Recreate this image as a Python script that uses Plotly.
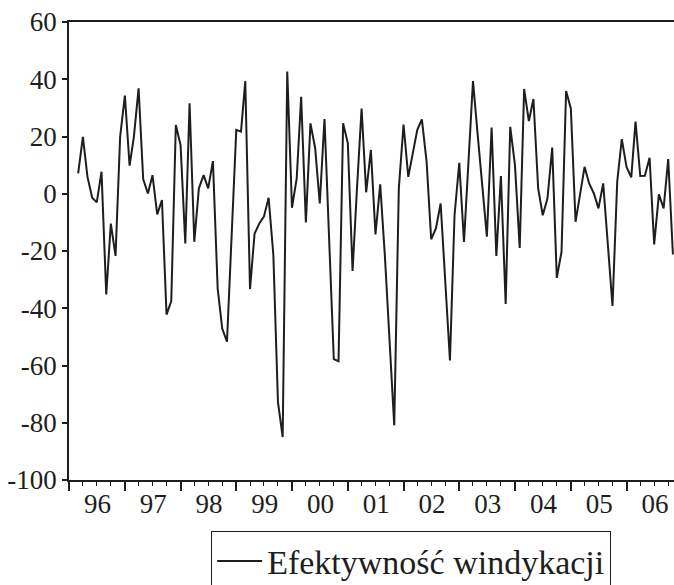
import plotly.graph_objects as go
import pandas as pd

start_month = "1996-03-01"
values = [
    7.1, 19.9, 5.9, -1.4, -3.0, 7.7, -35.2, -10.4, -21.7, 19.9,
    34.3, 9.8, 19.9, 36.8, 5.1, 0.1, 6.5, -7.2, -2.2, -42.2,
    -37.5, 24.0, 17.0, -17.4, 31.6, -16.8, 1.9, 6.5, 1.9, 11.4,
    -33.1, -47.1, -51.7, -14.0, 22.3, 21.7, 39.4, -33.3, -13.9, -10.4,
    -8.0, -1.4, -21.4, -72.7, -85.0, 42.7, -4.9, 5.4, 33.9, -10.0,
    24.6, 15.9, -3.4, 26.1, -16.0, -57.8, -58.5, 24.6, 17.6, -27.0,
    1.0, 29.8, 0.5, 15.3, -14.2, 3.3, -22.0, -51.0, -80.9, 1.9,
    24.2, 5.9, 14.1, 22.3, 26.0, 11.2, -15.9, -12.1, -3.4, -31.0,
    -58.2, -7.5, 10.8, -16.8, 11.0, 39.4, 21.0, 3.0, -15.0, 23.1,
    -21.7, 6.2, -38.5, 23.4, 10.0, -18.9, 36.6, 25.4, 33.1, 1.9,
    -7.5, -1.6, 16.1, -29.4, -20.3, 35.9, 29.8, -9.8, 0.0, 9.4,
    3.6, 0.1, -5.1, 3.6, -18.0, -39.2, 4.2, 19.1, 9.4, 5.7,
    25.2, 6.2, 6.3, 12.6, -17.7, -0.2, -5.1, 12.1, -21.2,
]
series_name = "Efektywność windykacji"
y_ticks = [-100, -80, -60, -40, -20, 0, 20, 40, 60]
y_tick_text = ["-100", "-80", "-60", "-40", "-20", "0", "20", "40", "60"]
year_labels = ["96", "97", "98", "99", "00", "01", "02", "03", "04", "05", "06"]

dates = pd.date_range(start_month, periods=len(values), freq="MS")
year_starts = pd.date_range("1996-01-01", periods=len(year_labels) + 1, freq="YS")
year_mids = [d + pd.DateOffset(months=6, days=5) for d in year_starts[:len(year_labels)]]
quarters = pd.date_range("1996-01-01", "2006-12-31", freq="QS")

FONT = "Liberation Serif"
INK = "#1e1e1e"
X_RANGE = ["1996-01-01", "2006-11-08"]
tick_font = dict(family=FONT, size=27, color=INK)

fig = go.Figure()
fig.add_trace(go.Scatter(
    x=dates, y=values, mode="lines", name=series_name,
    line=dict(color=INK, width=2),
))
# helper traces so the overlay axes (year labels, quarter ticks) are drawn
fig.add_trace(go.Scatter(x=[dates[0]], y=[None], xaxis="x2", showlegend=False, hoverinfo="skip"))
fig.add_trace(go.Scatter(x=[dates[0]], y=[None], xaxis="x3", showlegend=False, hoverinfo="skip"))

fig.update_layout(
    width=674, height=585,
    margin=dict(l=69, r=0, t=22, b=105, autoexpand=False),
    paper_bgcolor="white", plot_bgcolor="white",
    font=tick_font,
    showlegend=True,
    legend=dict(
        x=0.235, y=-0.112, xanchor="left", yanchor="top",
        bordercolor=INK, borderwidth=1,
        font=dict(family=FONT, size=34, color=INK),
        itemwidth=45,
    ),
    xaxis=dict(
        type="date", range=X_RANGE,
        tickvals=list(year_starts), ticktext=[""] * len(year_starts),
        ticks="outside", ticklen=9, tickwidth=1.5, tickcolor=INK,
        showline=True, linecolor=INK, linewidth=1.5, mirror=True,
        showgrid=False, zeroline=False, automargin=False,
    ),
    xaxis3=dict(
        type="date", overlaying="x", side="bottom", matches="x", range=X_RANGE,
        tickvals=list(quarters), ticktext=[""] * len(quarters),
        ticks="outside", ticklen=5, tickwidth=1.2, tickcolor=INK,
        showline=False, showgrid=False, zeroline=False, automargin=False,
    ),
    xaxis2=dict(
        type="date", overlaying="x", side="bottom", matches="x", range=X_RANGE,
        tickvals=year_mids, ticktext=year_labels,
        ticks="", showline=False, showgrid=False, zeroline=False,
        tickfont=tick_font, automargin=False, ticklabelstandoff=5,
    ),
    yaxis=dict(
        range=[-100, 60],
        tickvals=y_ticks, ticktext=y_tick_text,
        ticks="outside", ticklen=5, tickwidth=1.5, tickcolor=INK,
        showline=True, linecolor=INK, linewidth=1.5,
        showgrid=False, zeroline=False, automargin=False,
        tickfont=tick_font,
    ),
)

fig.write_html(
    "out.html",
    config={"displayModeBar": False},
    post_script="document.body.style.margin='0';document.body.style.overflow='hidden';",
)
